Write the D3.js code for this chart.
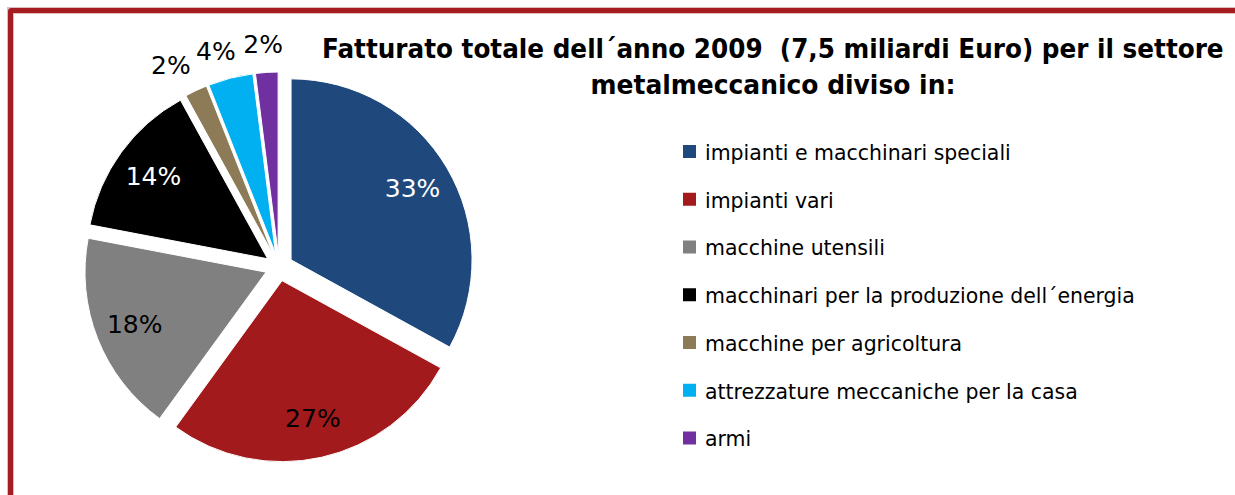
<!DOCTYPE html>
<html>
<head>
<meta charset="utf-8">
<script src="https://cdn.jsdelivr.net/npm/d3@7"></script>
<style>
  html, body { margin: 0; padding: 0; background: #fff; }
  svg { display: block; }
  text { font-family: "DejaVu Sans", Verdana, sans-serif; }
</style>
</head>
<body>
<div id="viz_container"></div>
<script>
// data
const categories = [
  "impianti e macchinari speciali",
  "impianti vari",
  "macchine utensili",
  "macchinari per la produzione dell\u00B4energia",
  "macchine per agricoltura",
  "attrezzature meccaniche per la casa",
  "armi"
];
const shares = [33, 27, 18, 14, 2, 4, 2];
const titleLines = [
  "Fatturato totale dell\u00B4anno 2009  (7,5 miliardi Euro) per il settore",
  "metalmeccanico diviso in:"
];

const width = 1235, height = 495;

const svg = d3.select("#viz_container")
  .append("svg")
    .attr("width", width)
    .attr("height", height);

// frame (red border, cut off on right and bottom)
svg.append("rect")
    .attr("x", 10.5).attr("y", 10.5)
    .attr("width", 1400).attr("height", 700)
    .attr("fill", "none")
    .attr("stroke", "#dcbcbc")
    .attr("stroke-width", 7);
svg.append("rect")
    .attr("x", 10.5).attr("y", 10.5)
    .attr("width", 1400).attr("height", 700)
    .attr("rx", 1)
    .attr("fill", "none")
    .attr("stroke", "#a51d21")
    .attr("stroke-width", 5);

// colours
const color = d3.scaleOrdinal()
  .domain(categories)
  .range(["#1f497d", "#a31a1c", "#808080", "#000000", "#8c7b56", "#00b0f0", "#7030a0"]);
const darkSlices = new Set([categories[0], categories[3]]);

const data = categories.map((c, i) => ({ name: c, value: shares[i] }));

// pie, every slice pulled out a little
const cx = 279, cy = 267, radius = 181, explode = 14;
const pie = d3.pie().sort(null).value(d => d.value);
const arc = d3.arc().innerRadius(0).outerRadius(radius);
const arcs = pie(data);

const pieG = svg.append("g").attr("transform", `translate(${cx},${cy})`);

const slice = pieG.selectAll("g.slice")
  .data(arcs)
  .join("g")
    .attr("class", "slice")
    .attr("transform", d => {
      const m = (d.startAngle + d.endAngle) / 2;
      return `translate(${Math.sin(m) * explode},${-Math.cos(m) * explode})`;
    });

slice.append("path")
    .attr("d", arc)
    .attr("fill", d => color(d.data.name))
    .attr("stroke", "#fff")
    .attr("stroke-width", 1);

// percentage labels
slice.append("text")
    .attr("transform", d => {
      const m = (d.startAngle + d.endAngle) / 2;
      const sx = Math.sin(m), sy = -Math.cos(m);
      if (d.data.value >= 5) {
        const l = radius * 0.78;
        return `translate(${sx * l},${sy * l})`;
      }
      // small slices: label outside the end
      const l = radius + 14;
      return `translate(${sx * l + sx * 45},${sy * l + sy * 14})`;
    })
    .attr("text-anchor", "middle")
    .attr("dy", "0.36em")
    .style("font-size", "25px")
    .attr("fill", d => (d.data.value >= 5 && darkSlices.has(d.data.name)) ? "#fff" : "#000")
    .text(d => d.data.value + "%");

// title (squeezed horizontally to the original's narrow bold face)
const titleX = 773;
const titleWidths = [902, 365];
svg.append("g")
  .selectAll("text")
  .data(titleLines)
  .join("text")
    .style("white-space", "pre")
    .style("font-size", "27px")
    .style("font-weight", "bold")
    .attr("fill", "#000")
    .text(d => d)
    .each(function(d, i) {
      const w = this.getComputedTextLength();
      const k = titleWidths[i] / w;
      d3.select(this)
        .attr("transform", `translate(${titleX - titleWidths[i] / 2},${58 + i * 36}) scale(${k},1)`);
    });

// legend
const legendY = d3.scalePoint()
  .domain(categories)
  .range([151.5, 438]);

const legend = svg.append("g");
const item = legend.selectAll("g")
  .data(categories)
  .join("g")
    .attr("transform", d => `translate(683,${legendY(d)})`);

item.append("rect")
    .attr("x", 0).attr("y", -6.5)
    .attr("width", 13).attr("height", 13)
    .attr("fill", d => color(d));

item.append("text")
    .attr("transform", "translate(22,0) scale(0.93,1)")
    .attr("dy", "0.38em")
    .style("font-size", "22px")
    .attr("fill", "#000")
    .text(d => d);
</script>
</body>
</html>
